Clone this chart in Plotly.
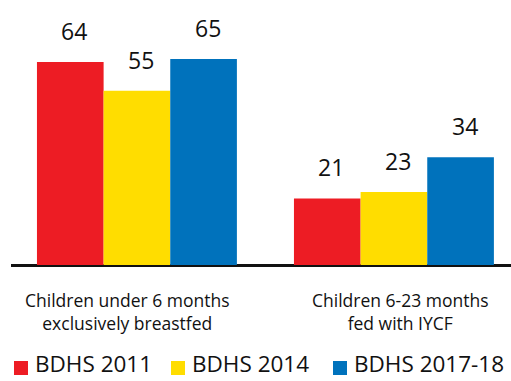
import plotly.graph_objects as go

categories = ["Children under 6 months<br>exclusively breastfed", "Children 6-23 months<br>fed with IYCF"]
series_names = ["BDHS 2011", "BDHS 2014", "BDHS 2017-18"]
values_2011 = [64, 21]
values_2014 = [55, 23]
values_2017 = [65, 34]
colors = ["#ED1C24", "#FFDD00", "#0072BC"]

series_values = [values_2011, values_2014, values_2017]
FONT = "Open Sans"

W, H = 511, 381
ML, MR, MT, MB = 11, 0, 0, 116
PW, PH = W - ML - MR, H - MT - MB

fig = go.Figure()
for name, vals, col in zip(series_names, series_values, colors):
    fig.add_trace(go.Bar(x=[0, 1], y=vals, name=name, marker=dict(color=col, line=dict(width=0)),
                         showlegend=False, hoverinfo="skip"))

bargap = 0.222
bw = (1 - bargap) / 3
annotations = []
for k, vals in enumerate(series_values):
    for i, v in enumerate(vals):
        annotations.append(dict(x=i + (k - 1) * bw, y=v, xref="x", yref="y", text=str(v),
                                showarrow=False, yanchor="middle", yshift=31, xshift=4,
                                font=dict(family=FONT, size=23, color="#111111")))

for i, cat in enumerate(categories):
    annotations.append(dict(x=i, y=0, xref="x", yref="y", text=cat, showarrow=False,
                            yanchor="top", yshift=-21, xshift=-9 if i == 0 else 7,
                            font=dict(family=FONT, size=17.5, color="#111111"), align="center"))

# manual legend
leg_x = [14, 171, 333]
leg_bottom = 380.5
sq_c = 368
shapes = []
for name, col, lx in zip(series_names, colors, leg_x):
    x0 = (lx - ML) / PW
    x1 = (lx + 14 - ML) / PW
    y0 = (H - MB - (sq_c + 7)) / PH
    y1 = (H - MB - (sq_c - 7)) / PH
    shapes.append(dict(type="rect", xref="paper", yref="paper", x0=x0, x1=x1, y0=y0, y1=y1,
                       fillcolor=col, line=dict(width=0)))
    annotations.append(dict(x=(lx + 19 - ML) / PW, y=(H - MB - leg_bottom) / PH, xref="paper", yref="paper",
                            text=name, showarrow=False, xanchor="left", yanchor="bottom",
                            font=dict(family=FONT, size=22.5, color="#111111")))

fig.update_layout(
    width=W, height=H,
    margin=dict(l=ML, r=MR, t=MT, b=MB),
    paper_bgcolor="white", plot_bgcolor="white",
    barmode="group", bargap=bargap, bargroupgap=0,
    xaxis=dict(range=[-0.49, -0.49 + PW / 257], showticklabels=False, showgrid=False, zeroline=False,
               showline=False, ticks=""),
    yaxis=dict(range=[0, PH / 3.17], showticklabels=False, showgrid=False, zeroline=True,
               zerolinecolor="#111111", zerolinewidth=2.5, showline=False),
    annotations=annotations, shapes=shapes,
)

fig.write_html("out.html")
